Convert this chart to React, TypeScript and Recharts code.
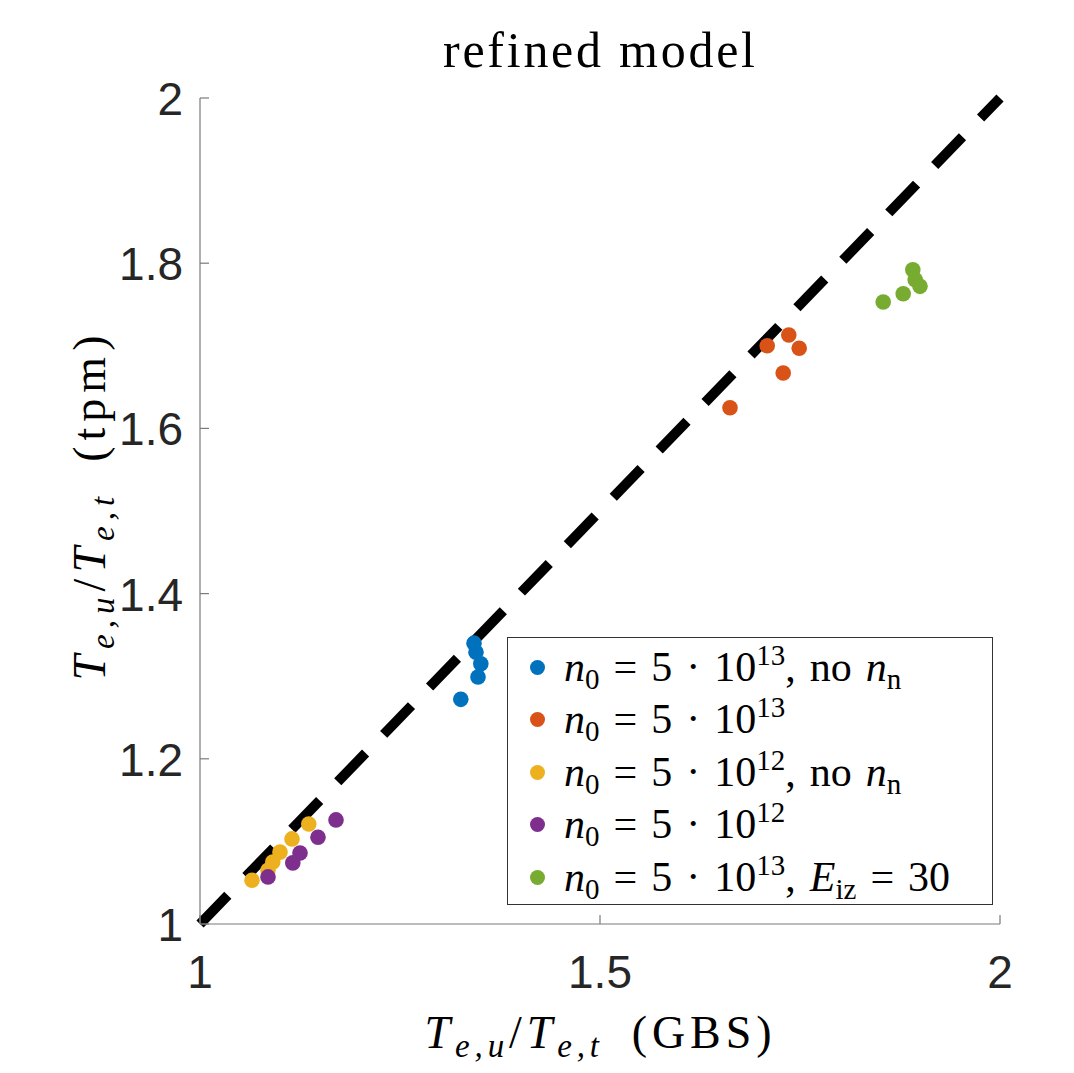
import React from "react";
import {
  ScatterChart,
  Scatter,
  XAxis,
  YAxis,
  ReferenceLine,
} from "recharts";

// values (GBS on x, tpm on y)
const blueX = [1.326, 1.3425, 1.345, 1.351, 1.3475];
const blueY = [1.272, 1.34, 1.329, 1.315, 1.299];
const orangeX = [1.6625, 1.709, 1.736, 1.749, 1.729];
const orangeY = [1.625, 1.7, 1.713, 1.697, 1.667];
const yellowX = [1.065, 1.085, 1.091, 1.1, 1.115, 1.136];
const yellowY = [1.053, 1.065, 1.075, 1.087, 1.103, 1.121];
const purpleX = [1.085, 1.116, 1.125, 1.1475, 1.17];
const purpleY = [1.057, 1.074, 1.086, 1.105, 1.126];
const greenX = [1.854, 1.879, 1.891, 1.894, 1.9];
const greenY = [1.753, 1.763, 1.792, 1.78, 1.772];

const xTicks = [1, 1.5, 2];
const yTicks = [1, 1.2, 1.4, 1.6, 1.8, 2];

const seriesColors = ["#0072BD", "#D95319", "#EDB120", "#7E2F8E", "#77AC30"];
const legendExp = ["13", "13", "12", "12", "13"];
const legendTail = ["noN", "", "noN", "", "Eiz"];

const zip = (xs: number[], ys: number[]) => xs.map((x, i) => ({ x, y: ys[i] }));
const series = [
  zip(blueX, blueY),
  zip(orangeX, orangeY),
  zip(yellowX, yellowY),
  zip(purpleX, purpleY),
  zip(greenX, greenY),
];

const AXIS = "#7a7a7a";
const TXT = "#262626";
const SERIF = "'Liberation Serif', 'Times New Roman', serif";
const SANS = "'Liberation Sans', Arial, sans-serif";
const SP = "\u2004";

function Marker(props: { cx?: number; cy?: number; fill?: string }) {
  const { cx = 0, cy = 0, fill } = props;
  return <circle cx={cx} cy={cy} r={7.8} fill={fill} />;
}

function YTick(props: any) {
  const { x, y, payload } = props;
  return (
    <g>
      <line x1={x} y1={y} x2={x + 9} y2={y} stroke={AXIS} strokeWidth={1.2} />
      <text x={x - 17} y={y + 17} textAnchor="end" fill={TXT} fontSize={46} fontFamily={SANS}>
        {payload.value}
      </text>
    </g>
  );
}

function XTick(props: any) {
  const { x, y, payload } = props;
  return (
    <g>
      <line x1={x} y1={y} x2={x} y2={y - 9} stroke={AXIS} strokeWidth={1.2} />
      <text x={x} y={y + 64} textAnchor="middle" fill={TXT} fontSize={46} fontFamily={SANS}>
        {payload.value}
      </text>
    </g>
  );
}

// T_{e,u}/T_{e,t} (suffix)
function RatioText({ suffix }: { suffix: string }) {
  return (
    <>
      <tspan fontStyle="italic">T</tspan>
      <tspan fontStyle="italic" fontSize={33} dy={9}>e,u</tspan>
      <tspan dy={-9}>/</tspan>
      <tspan fontStyle="italic">T</tspan>
      <tspan fontStyle="italic" fontSize={33} dy={9}>e,t</tspan>
      <tspan dy={-9}>{"\u2002(" + suffix + ")"}</tspan>
    </>
  );
}

function LegendBox() {
  const sub: React.CSSProperties = { fontSize: 29, verticalAlign: -8 };
  const sup: React.CSSProperties = { fontSize: 29, verticalAlign: 16 };
  return (
    <div
      style={{
        position: "absolute",
        left: 499,
        top: 629,
        width: 486,
        height: 268,
        border: "1px solid #333",
        background: "#fff",
        boxSizing: "border-box",
        fontFamily: SERIF,
        fontSize: 42,
        color: "#000",
        paddingTop: 3,
      }}
    >
      {seriesColors.map((c, i) => (
        <div key={i} style={{ display: "flex", alignItems: "center", height: 52.5, whiteSpace: "nowrap" }}>
          <span
            style={{
              display: "inline-block",
              width: 15,
              height: 15,
              borderRadius: "50%",
              background: c,
              marginLeft: 22,
              marginRight: 19,
            }}
          />
          <span>
            <i>n</i>
            <span style={sub}>0</span>
            {SP}={SP}5{SP}·{SP}10<span style={sup}>{legendExp[i]}</span>
            {legendTail[i] === "noN" && (
              <>
                ,{SP}no{SP}<i>n</i>
                <span style={sub}>n</span>
              </>
            )}
            {legendTail[i] === "Eiz" && (
              <>
                ,{SP}<i>E</i>
                <span style={sub}>iz</span>
                {SP}={SP}30
              </>
            )}
          </span>
        </div>
      ))}
    </div>
  );
}

export default function App() {
  return (
    <div style={{ position: "relative", width: 1066, height: 1065 }}>
      <ScatterChart
        width={1066}
        height={1065}
        margin={{ top: 90, right: 74, bottom: 49, left: 92 }}
      >
        <XAxis
          dataKey="x"
          type="number"
          domain={[1, 2]}
          ticks={xTicks}
          height={100}
          tickLine={false}
          tickSize={0}
          tickMargin={0}
          axisLine={{ stroke: AXIS, strokeWidth: 1.2 }}
          tick={<XTick />}
          label={{
            position: "bottom",
            content: (p: any) => {
              const vb = p.viewBox;
              return (
                <text
                  x={vb.x + vb.width / 2 - 2}
                  y={vb.y + 124}
                  textAnchor="middle"
                  fontSize={46}
                  fontFamily={SERIF}
                  fill="#000"
                  textLength={347}
                  lengthAdjust="spacing"
                >
                  <RatioText suffix="GBS" />
                </text>
              );
            },
          }}
        />
        <YAxis
          dataKey="y"
          type="number"
          domain={[1, 2]}
          ticks={yTicks}
          width={100}
          tickLine={false}
          tickSize={0}
          tickMargin={0}
          axisLine={{ stroke: AXIS, strokeWidth: 1.2 }}
          tick={<YTick />}
          label={{
            position: "left",
            content: () => {
              const cx = 97;
              const cy = 500;
              return (
                <text
                  x={cx}
                  y={cy}
                  transform={`rotate(-90 ${cx} ${cy})`}
                  textAnchor="middle"
                  fontSize={46}
                  fontFamily={SERIF}
                  fill="#000"
                  textLength={345}
                  lengthAdjust="spacing"
                >
                  <RatioText suffix="tpm" />
                </text>
              );
            },
          }}
        />
        <ReferenceLine
          segment={[
            { x: 1, y: 1 },
            { x: 2, y: 2 },
          ]}
          stroke="#000"
          strokeWidth={10}
          strokeDasharray="40 26"
          ifOverflow="visible"
        />
        {series.map((d, i) => (
          <Scatter
            key={i}
            data={d}
            fill={seriesColors[i]}
            shape={<Marker />}
            isAnimationActive={false}
          />
        ))}
      </ScatterChart>
      <LegendBox />
      <svg
        width={1066}
        height={80}
        style={{ position: "absolute", left: 0, top: 0, pointerEvents: "none" }}
      >
        <text
          x={591}
          y={59}
          textAnchor="middle"
          fontSize={50}
          fontFamily={SERIF}
          fill="#000"
          textLength={312}
          lengthAdjust="spacing"
        >
          refined model
        </text>
      </svg>
    </div>
  );
}
